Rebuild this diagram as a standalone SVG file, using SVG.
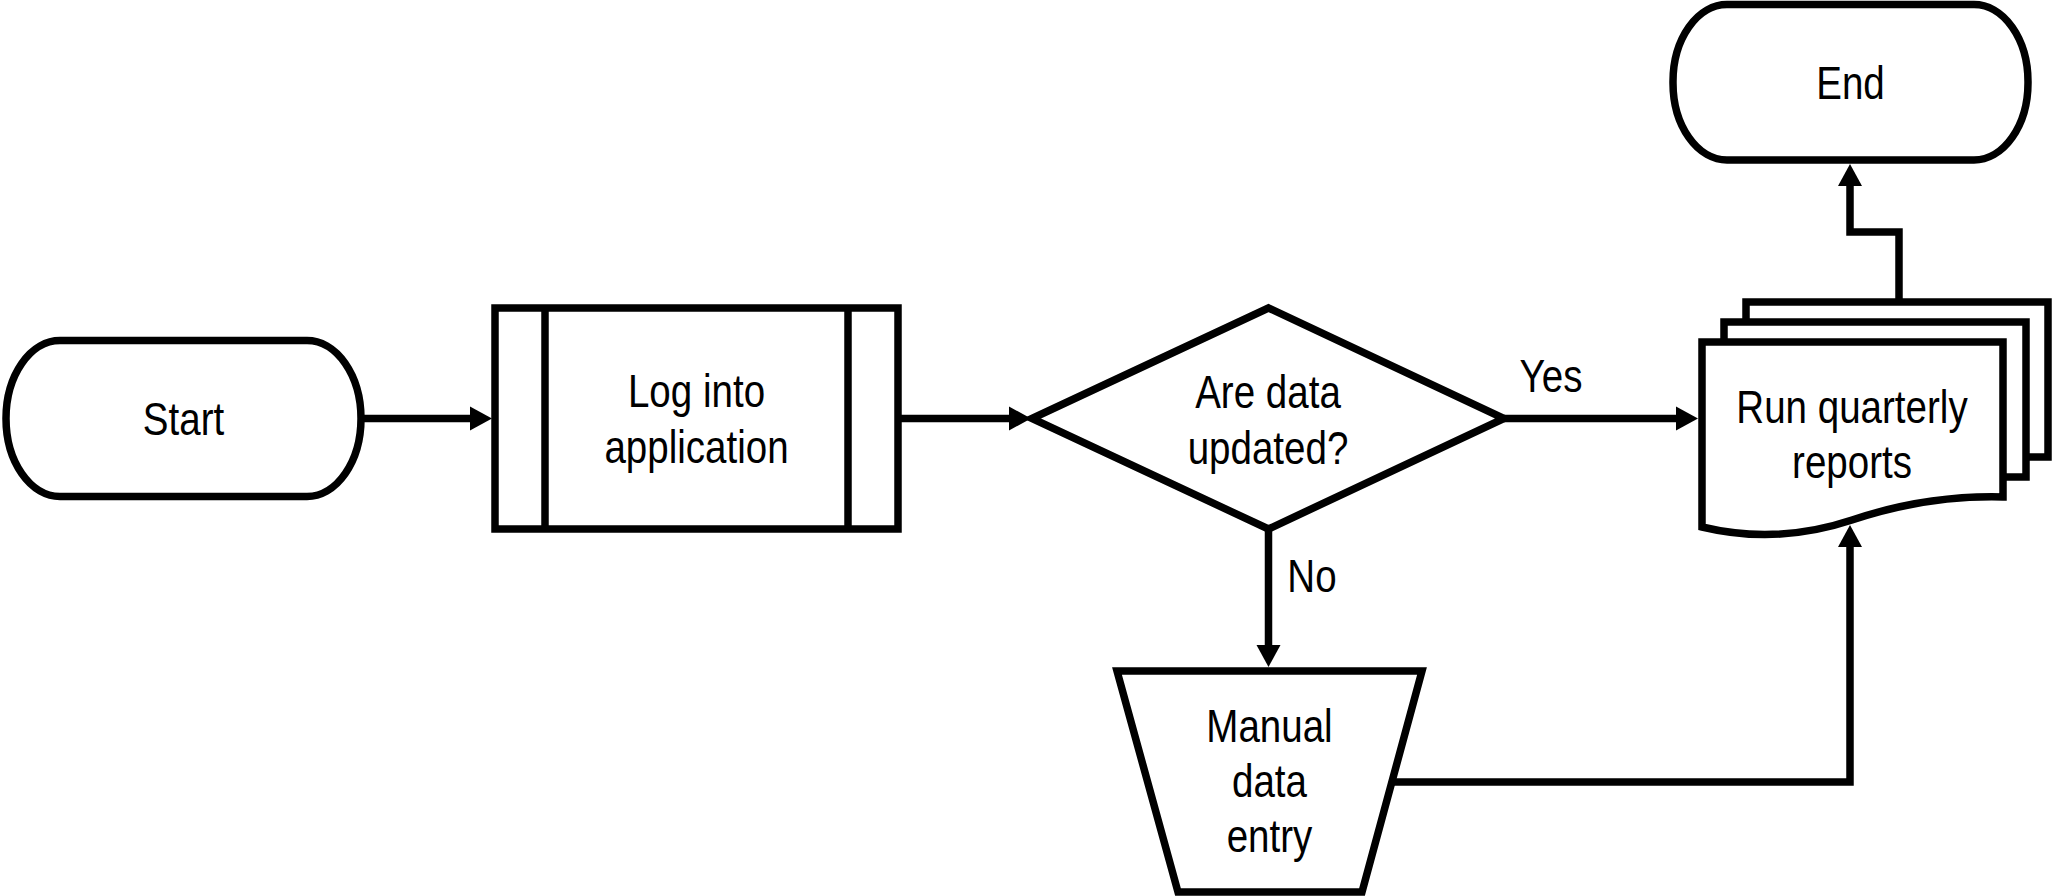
<svg xmlns="http://www.w3.org/2000/svg" width="2054" height="896" viewBox="0 0 2054 896">
<defs>
<marker id="ah" markerUnits="userSpaceOnUse" markerWidth="24" markerHeight="26" refX="11" refY="12" orient="auto" overflow="visible">
<path d="M0,0 L22,12 L0,24 Z" fill="#000"/>
</marker>
<style>
.s{fill:#fff;stroke:#000;stroke-width:7.5;stroke-linejoin:miter}
.c{fill:none;stroke:#000;stroke-width:7.5;marker-end:url(#ah)}
.t{font-family:"Liberation Sans",Arial,sans-serif;font-size:47px;fill:#000;text-anchor:middle}
</style>
</defs>
<rect width="2054" height="896" fill="#fff"/>
<g id="connectors">
<path class="c" d="M361,418.5 H481"/>
<path class="c" d="M898,418.5 H1020"/>
<path class="c" d="M1504,418.5 H1687"/>
<path class="c" d="M1268.5,529 V656"/>
<path class="c" d="M1392,782 H1850 V536"/>
<path class="c" d="M1899,302 V232 H1850 V175"/>
<text class="t" transform="translate(1551,392) scale(0.82,1)">Yes</text>
<text class="t" transform="translate(1312,592) scale(0.82,1)">No</text>
</g>
<g id="start">
<rect class="s" x="6" y="340.5" width="355" height="156" rx="54" ry="78"/>
<text class="t" transform="translate(183.5,435) scale(0.82,1)">Start</text>
</g>
<g id="login">
<rect class="s" x="495" y="308" width="403" height="221"/>
<line class="s" x1="545" y1="308" x2="545" y2="529"/>
<line class="s" x1="848" y1="308" x2="848" y2="529"/>
<text class="t" transform="translate(696.5,407) scale(0.82,1)">Log into</text>
<text class="t" transform="translate(696.5,463) scale(0.82,1)">application</text>
</g>
<g id="decision">
<polygon class="s" points="1032,418.5 1268.5,308 1504,418.5 1268.5,529"/>
<text class="t" transform="translate(1268,408) scale(0.82,1)">Are data</text>
<text class="t" transform="translate(1268,464) scale(0.82,1)">updated?</text>
</g>
<g id="manual">
<polygon class="s" points="1117,671 1422,671 1362,892 1178,892"/>
<text class="t" transform="translate(1269.5,742) scale(0.82,1)">Manual</text>
<text class="t" transform="translate(1269.5,797) scale(0.82,1)">data</text>
<text class="t" transform="translate(1269.5,852) scale(0.82,1)">entry</text>
</g>
<g id="reports">
<path class="s" d="M1746,322 V302 H2048 V457 H2026"/>
<path class="s" d="M1724,342 V322 H2026 V477 H2003"/>
<path class="s" d="M1702,342 H2003 V497 Q1927,495 1852,520 Q1777,545 1702,527 Z"/>
<text class="t" transform="translate(1852,423) scale(0.82,1)">Run quarterly</text>
<text class="t" transform="translate(1852,478) scale(0.82,1)">reports</text>
</g>
<g id="end">
<rect class="s" x="1673" y="4.5" width="355" height="155.5" rx="54" ry="77"/>
<text class="t" transform="translate(1850.5,99) scale(0.82,1)">End</text>
</g>
</svg>
